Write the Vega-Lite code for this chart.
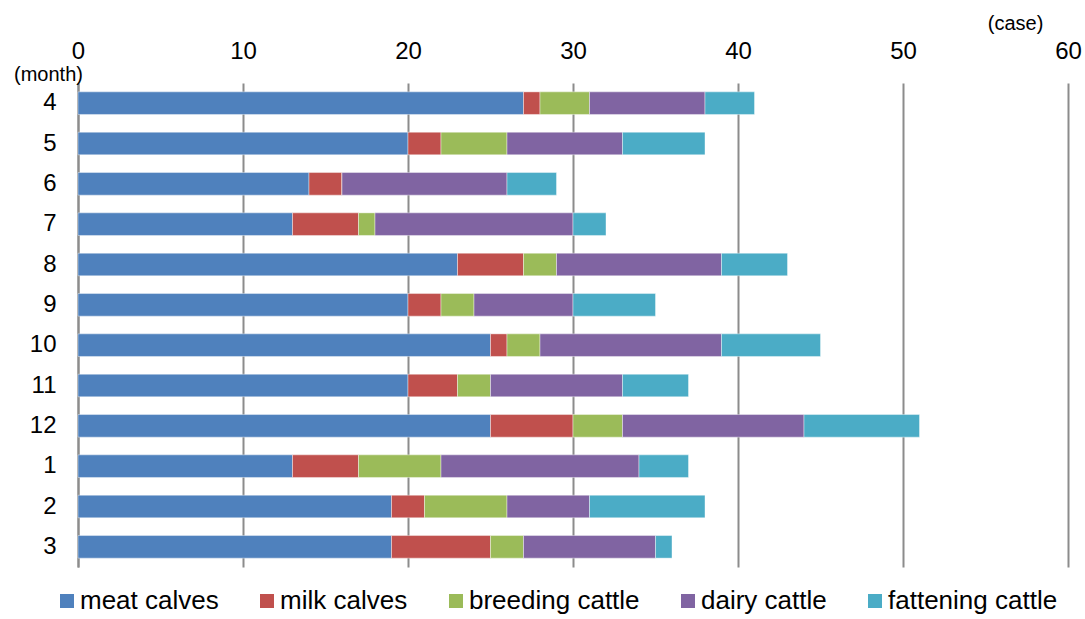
{
  "$schema": "https://vega.github.io/schema/vega-lite/v6.json",
  "width": 990,
  "height": 484,
  "padding": {"left": 78, "top": 83, "right": 17, "bottom": 52},
  "autosize": {"type": "none"},
  "background": "white",
  "data": {"values": [
    {"month": "4", "category": "meat calves", "order": 1, "cases": 27},
    {"month": "4", "category": "milk calves", "order": 2, "cases": 1},
    {"month": "4", "category": "breeding cattle", "order": 3, "cases": 3},
    {"month": "4", "category": "dairy cattle", "order": 4, "cases": 7},
    {"month": "4", "category": "fattening cattle", "order": 5, "cases": 3},
    {"month": "5", "category": "meat calves", "order": 1, "cases": 20},
    {"month": "5", "category": "milk calves", "order": 2, "cases": 2},
    {"month": "5", "category": "breeding cattle", "order": 3, "cases": 4},
    {"month": "5", "category": "dairy cattle", "order": 4, "cases": 7},
    {"month": "5", "category": "fattening cattle", "order": 5, "cases": 5},
    {"month": "6", "category": "meat calves", "order": 1, "cases": 14},
    {"month": "6", "category": "milk calves", "order": 2, "cases": 2},
    {"month": "6", "category": "breeding cattle", "order": 3, "cases": 0},
    {"month": "6", "category": "dairy cattle", "order": 4, "cases": 10},
    {"month": "6", "category": "fattening cattle", "order": 5, "cases": 3},
    {"month": "7", "category": "meat calves", "order": 1, "cases": 13},
    {"month": "7", "category": "milk calves", "order": 2, "cases": 4},
    {"month": "7", "category": "breeding cattle", "order": 3, "cases": 1},
    {"month": "7", "category": "dairy cattle", "order": 4, "cases": 12},
    {"month": "7", "category": "fattening cattle", "order": 5, "cases": 2},
    {"month": "8", "category": "meat calves", "order": 1, "cases": 23},
    {"month": "8", "category": "milk calves", "order": 2, "cases": 4},
    {"month": "8", "category": "breeding cattle", "order": 3, "cases": 2},
    {"month": "8", "category": "dairy cattle", "order": 4, "cases": 10},
    {"month": "8", "category": "fattening cattle", "order": 5, "cases": 4},
    {"month": "9", "category": "meat calves", "order": 1, "cases": 20},
    {"month": "9", "category": "milk calves", "order": 2, "cases": 2},
    {"month": "9", "category": "breeding cattle", "order": 3, "cases": 2},
    {"month": "9", "category": "dairy cattle", "order": 4, "cases": 6},
    {"month": "9", "category": "fattening cattle", "order": 5, "cases": 5},
    {"month": "10", "category": "meat calves", "order": 1, "cases": 25},
    {"month": "10", "category": "milk calves", "order": 2, "cases": 1},
    {"month": "10", "category": "breeding cattle", "order": 3, "cases": 2},
    {"month": "10", "category": "dairy cattle", "order": 4, "cases": 11},
    {"month": "10", "category": "fattening cattle", "order": 5, "cases": 6},
    {"month": "11", "category": "meat calves", "order": 1, "cases": 20},
    {"month": "11", "category": "milk calves", "order": 2, "cases": 3},
    {"month": "11", "category": "breeding cattle", "order": 3, "cases": 2},
    {"month": "11", "category": "dairy cattle", "order": 4, "cases": 8},
    {"month": "11", "category": "fattening cattle", "order": 5, "cases": 4},
    {"month": "12", "category": "meat calves", "order": 1, "cases": 25},
    {"month": "12", "category": "milk calves", "order": 2, "cases": 5},
    {"month": "12", "category": "breeding cattle", "order": 3, "cases": 3},
    {"month": "12", "category": "dairy cattle", "order": 4, "cases": 11},
    {"month": "12", "category": "fattening cattle", "order": 5, "cases": 7},
    {"month": "1", "category": "meat calves", "order": 1, "cases": 13},
    {"month": "1", "category": "milk calves", "order": 2, "cases": 4},
    {"month": "1", "category": "breeding cattle", "order": 3, "cases": 5},
    {"month": "1", "category": "dairy cattle", "order": 4, "cases": 12},
    {"month": "1", "category": "fattening cattle", "order": 5, "cases": 3},
    {"month": "2", "category": "meat calves", "order": 1, "cases": 19},
    {"month": "2", "category": "milk calves", "order": 2, "cases": 2},
    {"month": "2", "category": "breeding cattle", "order": 3, "cases": 5},
    {"month": "2", "category": "dairy cattle", "order": 4, "cases": 5},
    {"month": "2", "category": "fattening cattle", "order": 5, "cases": 7},
    {"month": "3", "category": "meat calves", "order": 1, "cases": 19},
    {"month": "3", "category": "milk calves", "order": 2, "cases": 6},
    {"month": "3", "category": "breeding cattle", "order": 3, "cases": 2},
    {"month": "3", "category": "dairy cattle", "order": 4, "cases": 8},
    {"month": "3", "category": "fattening cattle", "order": 5, "cases": 1}
  ]},
  "mark": {"type": "bar", "stroke": "white", "strokeWidth": 1, "strokeOpacity": 0.4},
  "encoding": {
    "y": {
      "field": "month",
      "type": "ordinal",
      "sort": ["4", "5", "6", "7", "8", "9", "10", "11", "12", "1", "2", "3"],
      "scale": {"paddingInner": 0.44},
      "axis": {
        "orient": "left",
        "domain": true,
        "domainColor": "#8c8c8c",
        "domainWidth": 2,
        "ticks": false,
        "grid": false,
        "labelFontSize": 24,
        "labelColor": "#000000",
        "labelPadding": 22,
        "title": "(month)",
        "titleAngle": 0,
        "titleX": -30,
        "titleY": -9,
        "titleFontSize": 20,
        "titleFontWeight": "normal",
        "titleColor": "#000000",
        "titleBaseline": "middle",
        "titleAlign": "center"
      }
    },
    "x": {
      "field": "cases",
      "type": "quantitative",
      "stack": "zero",
      "scale": {"domain": [0, 60], "nice": false},
      "axis": {
        "orient": "top",
        "values": [0, 10, 20, 30, 40, 50, 60],
        "grid": true,
        "gridColor": "#8c8c8c",
        "gridWidth": 2,
        "domain": false,
        "ticks": false,
        "labelFlush": false,
        "labelFontSize": 24,
        "labelColor": "#000000",
        "labelPadding": 20,
        "title": "(case)",
        "titleX": 937,
        "titleY": -60,
        "titleFontSize": 20,
        "titleFontWeight": "normal",
        "titleColor": "#000000",
        "titleBaseline": "middle",
        "titleAlign": "center"
      }
    },
    "order": {"field": "order", "type": "quantitative", "sort": "ascending"},
    "color": {
      "field": "category",
      "type": "nominal",
      "sort": ["meat calves", "milk calves", "breeding cattle", "dairy cattle", "fattening cattle"],
      "scale": {
        "domain": ["meat calves", "milk calves", "breeding cattle", "dairy cattle", "fattening cattle"],
        "range": ["#4F81BD", "#C0504D", "#9BBB59", "#8064A2", "#4BACC6"]
      },
      "legend": {
        "orient": "none",
        "legendX": -24,
        "legendY": 505,
        "direction": "horizontal",
        "title": null,
        "symbolType": "square",
        "symbolSize": 196,
        "symbolStrokeWidth": 0,
        "labelFontSize": 26,
        "labelLimit": 0,
        "labelColor": "#000000",
        "labelOffset": 0,
        "columnPadding": 35
      }
    }
  },
  "config": {"view": {"stroke": null}, "font": "Liberation Sans"}
}
